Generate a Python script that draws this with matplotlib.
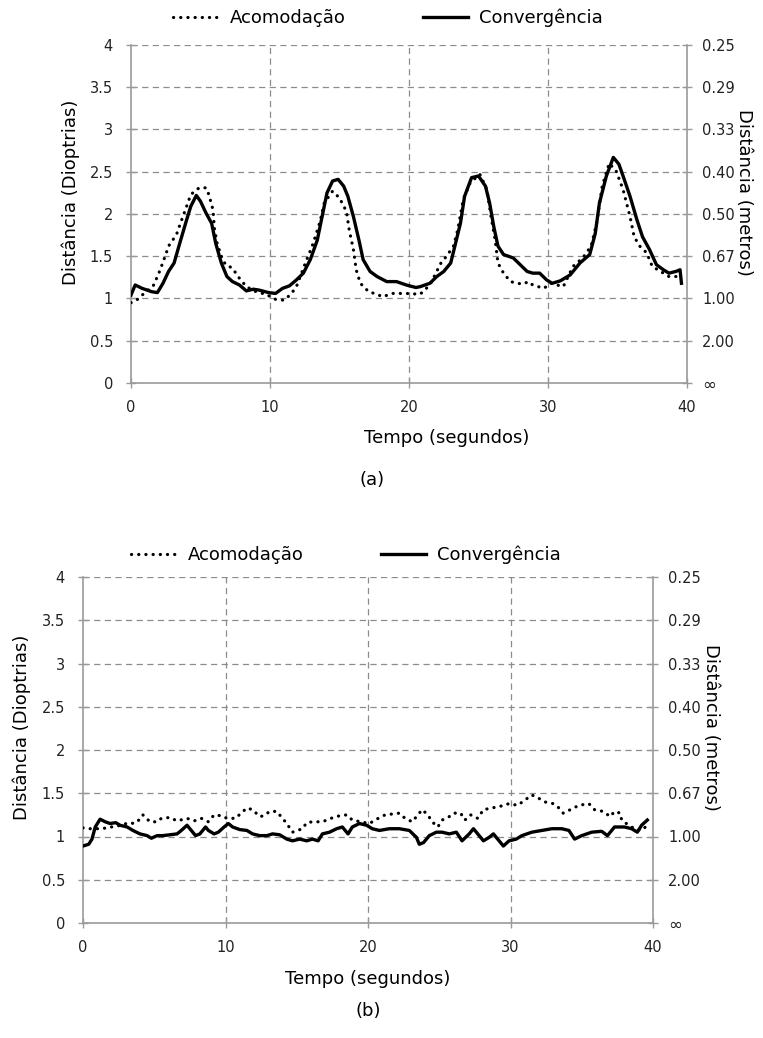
import matplotlib
matplotlib.use("Agg")
import matplotlib.pyplot as plt

# panel (a) - accommodation (dotted) and convergence (solid), dioptres vs seconds
t_acc_a = [0, 0.4, 0.8, 1.6, 1.9, 2.1, 2.5, 2.7, 3.0, 3.3, 3.6, 4.0, 4.3, 4.9, 5.4, 5.6, 5.9, 6.0, 6.2, 6.5,
           6.8, 7.3, 7.7, 8.3, 9.0, 9.7, 10.4, 11.0, 11.5, 11.9, 12.5, 13.1, 13.6, 13.9, 14.5, 15.0, 15.5, 15.7,
           16.0, 16.2, 16.5, 17.1, 17.7, 18.1, 18.8, 19.8, 20.8, 21.5, 22.3, 22.7, 23.2, 23.5, 23.9, 24.4, 25.1,
           25.6, 25.9, 26.2, 26.4, 26.8, 27.3, 27.8, 28.2, 28.6, 28.9, 29.7, 30.2, 31.1, 31.8, 32.5, 33.1, 33.5,
           33.9, 34.4, 34.9, 35.4, 35.9, 36.2, 36.6, 37.1, 37.5, 38.3, 38.7, 39.2]
acc_a = [0.95, 0.98, 1.04, 1.15, 1.26, 1.34, 1.52, 1.62, 1.69, 1.77, 1.91, 2.09, 2.23, 2.31, 2.31, 2.23, 2.05, 1.83,
         1.65, 1.50, 1.40, 1.36, 1.26, 1.14, 1.08, 1.05, 0.99, 0.98, 1.05, 1.14, 1.40, 1.65, 1.91, 2.13, 2.27, 2.19,
         2.03, 1.81, 1.58, 1.34, 1.18, 1.08, 1.05, 1.02, 1.06, 1.06, 1.05, 1.16, 1.42, 1.50, 1.62, 1.81, 2.17, 2.37,
         2.47, 2.29, 1.97, 1.69, 1.42, 1.30, 1.20, 1.18, 1.17, 1.20, 1.16, 1.12, 1.18, 1.14, 1.38, 1.48, 1.62, 1.89,
         2.33, 2.60, 2.51, 2.29, 1.97, 1.73, 1.62, 1.54, 1.38, 1.30, 1.26, 1.26]

t_conv_a = [0, 0.3, 0.8, 1.5, 1.9, 2.3, 2.7, 3.1, 3.5, 4.0, 4.3, 4.7, 5.0, 5.4, 5.8, 6.1, 6.5, 6.9, 7.3, 7.8,
            8.3, 8.8, 9.2, 9.9, 10.4, 10.9, 11.4, 11.9, 12.4, 12.9, 13.4, 13.7, 14.1, 14.5, 14.9, 15.3, 15.6, 16.0,
            16.4, 16.7, 17.2, 17.7, 18.4, 19.1, 19.8, 20.5, 20.8, 21.5, 22.0, 22.5, 23.0, 23.3, 23.7, 24.0, 24.5,
            25.0, 25.5, 25.8, 26.1, 26.4, 26.8, 27.5, 28.0, 28.5, 28.9, 29.4, 29.9, 30.3, 30.9, 31.6, 32.3, 33.0,
            33.4, 33.7, 34.2, 34.7, 35.1, 35.4, 35.9, 36.4, 36.8, 37.3, 37.8, 38.3, 38.7, 39.2, 39.5, 39.6]
conv_a = [1.04, 1.16, 1.12, 1.08, 1.07, 1.18, 1.32, 1.42, 1.65, 1.93, 2.09, 2.22, 2.15, 2.01, 1.89, 1.65, 1.42, 1.26,
          1.20, 1.16, 1.09, 1.11, 1.10, 1.07, 1.06, 1.12, 1.15, 1.22, 1.30, 1.46, 1.69, 1.93, 2.25, 2.39, 2.41, 2.33,
          2.21, 1.97, 1.69, 1.46, 1.32, 1.26, 1.20, 1.20, 1.16, 1.13, 1.14, 1.18, 1.26, 1.32, 1.42, 1.62, 1.89, 2.21,
          2.43, 2.45, 2.33, 2.13, 1.85, 1.62, 1.52, 1.48, 1.40, 1.32, 1.30, 1.30, 1.22, 1.18, 1.21, 1.28, 1.42, 1.52,
          1.77, 2.13, 2.45, 2.67, 2.59, 2.45, 2.21, 1.93, 1.73, 1.58, 1.40, 1.34, 1.30, 1.32, 1.34, 1.18]

# panel (b)
t_acc_b = [0, 0.5, 1.3, 2.0, 2.7, 3.2, 3.6, 4.0, 4.2, 4.7, 5.2, 5.5, 6.1, 6.6, 7.3, 7.8, 8.3, 8.8, 9.2, 9.7,
           10.1, 10.7, 11.1, 11.5, 11.9, 12.4, 12.7, 13.1, 13.6, 13.9, 14.3, 14.7, 15.4, 15.7, 16.1, 16.8, 17.4,
           18.0, 18.5, 18.9, 19.5, 20.1, 20.6, 21.2, 22.2, 22.6, 23.1, 23.5, 23.8, 24.2, 24.5, 24.9, 25.2, 25.7,
           26.0, 26.5, 26.8, 27.2, 27.7, 28.1, 28.7, 29.3, 29.9, 30.5, 31.0, 31.5, 32.0, 32.4, 33.0, 33.4, 33.7,
           34.2, 34.8, 35.5, 35.9, 36.5, 37.0, 37.3, 37.7, 37.8, 38.3, 38.7, 39.2, 39.6]
acc_b = [1.10, 1.09, 1.09, 1.11, 1.13, 1.16, 1.15, 1.20, 1.25, 1.17, 1.17, 1.21, 1.22, 1.18, 1.21, 1.18, 1.21, 1.17,
         1.25, 1.24, 1.21, 1.21, 1.27, 1.33, 1.31, 1.23, 1.24, 1.29, 1.29, 1.23, 1.15, 1.05, 1.09, 1.16, 1.17, 1.17,
         1.21, 1.24, 1.25, 1.19, 1.17, 1.15, 1.20, 1.25, 1.27, 1.21, 1.17, 1.25, 1.31, 1.25, 1.17, 1.11, 1.19, 1.23,
         1.27, 1.27, 1.19, 1.25, 1.21, 1.31, 1.33, 1.35, 1.38, 1.36, 1.42, 1.48, 1.44, 1.40, 1.38, 1.33, 1.27, 1.31,
         1.36, 1.38, 1.31, 1.29, 1.23, 1.29, 1.27, 1.19, 1.13, 1.09, 1.07, 1.13]

t_conv_b = [0, 0.4, 0.63, 0.86, 1.2, 1.56, 1.9, 2.3, 2.6, 3.1, 3.5, 4.0, 4.5, 4.8, 5.2, 5.6, 6.1, 6.6, 6.9, 7.3,
            7.6, 7.9, 8.2, 8.6, 8.8, 9.2, 9.5, 9.9, 10.2, 10.5, 11.0, 11.5, 11.9, 12.4, 12.9, 13.3, 13.8, 14.3,
            14.7, 15.2, 15.7, 16.1, 16.5, 16.8, 17.3, 17.8, 18.2, 18.6, 18.9, 19.4, 19.9, 20.3, 20.8, 21.5, 22.2,
            22.9, 23.4, 23.6, 23.9, 24.3, 24.8, 25.2, 25.7, 26.2, 26.6, 27.1, 27.4, 27.8, 28.1, 28.5, 28.8, 29.2,
            29.5, 29.9, 30.4, 30.8, 31.5, 32.2, 32.9, 33.6, 34.1, 34.5, 35.0, 35.7, 36.4, 36.8, 37.3, 38.0, 38.5,
            38.9, 39.2, 39.6]
conv_b = [0.89, 0.91, 0.97, 1.11, 1.20, 1.17, 1.15, 1.16, 1.13, 1.11, 1.07, 1.03, 1.01, 0.98, 1.01, 1.01, 1.02, 1.03,
          1.07, 1.13, 1.07, 1.01, 1.03, 1.11, 1.07, 1.03, 1.05, 1.11, 1.15, 1.11, 1.08, 1.07, 1.03, 1.01, 1.01, 1.03,
          1.02, 0.97, 0.95, 0.97, 0.95, 0.97, 0.95, 1.03, 1.05, 1.09, 1.11, 1.03, 1.11, 1.15, 1.13, 1.09, 1.07, 1.09,
          1.09, 1.07, 0.99, 0.91, 0.93, 1.01, 1.05, 1.05, 1.03, 1.05, 0.95, 1.03, 1.09, 1.01, 0.95, 0.99, 1.03, 0.95,
          0.89, 0.95, 0.97, 1.01, 1.05, 1.07, 1.09, 1.09, 1.07, 0.97, 1.01, 1.05, 1.06, 1.01, 1.11, 1.11, 1.09, 1.05,
          1.13, 1.19]

x_ticks = [0, 10, 20, 30, 40]
y_ticks = [0, 0.5, 1, 1.5, 2, 2.5, 3, 3.5, 4]
y_tick_labels = ["0", "0.5", "1", "1.5", "2", "2.5", "3", "3.5", "4"]
# right axis: distance in metres = 1 / dioptres
m_tick_labels = ["\u221e"] + ["%.2f" % (1.0 / v) for v in y_ticks[1:]]

W, H = 763, 1038
GRAY = "#9a9a9a"
GRID = "#8c8c8c"
TXT = "#222222"
plt.rcParams["font.family"] = "DejaVu Sans"

fig = plt.figure(figsize=(W / 100, H / 100), dpi=100)


def panel(ax, t_acc, acc, t_conv, conv, xlab_x, leg_xy, tag_xy, tag):
    ax.plot(t_acc, acc, color="black", lw=2.3, linestyle=(0, (0.05, 2.2)),
            dash_capstyle="round", label="Acomodação", zorder=3)
    ax.plot(t_conv, conv, color="black", lw=2.4, label="Convergência", zorder=4)

    ax.set_xlim(0, 40)
    ax.set_ylim(0, 4)
    ax.set_xticks(x_ticks)
    ax.set_yticks(y_ticks)
    ax.set_yticklabels(y_tick_labels)
    ax.grid(True, color=GRID, linestyle=(0, (5, 3.5)), lw=0.9, zorder=0)
    # no dashed grid on top of the axis lines
    xg = ax.get_xgridlines()
    xg[0].set_visible(False)
    xg[-1].set_visible(False)
    ax.get_ygridlines()[0].set_visible(False)

    for s in ["top", "right"]:
        ax.spines[s].set_visible(False)
    for s in ["left", "bottom"]:
        ax.spines[s].set_color(GRAY)
        ax.spines[s].set_linewidth(1.2)
    ax.tick_params(axis="y", direction="inout", length=7, width=1, color=GRAY,
                   labelsize=10.5, labelcolor=TXT, pad=9.5)
    ax.tick_params(axis="x", direction="inout", length=7, width=1, color=GRAY,
                   labelsize=10.5, labelcolor=TXT, pad=8.5)

    ax.set_xlabel("Tempo (segundos)", fontsize=13)
    ax.xaxis.set_label_coords(xlab_x, -0.135)
    ax.set_ylabel("Distância (Dioptrias)", fontsize=13)
    ax.yaxis.set_label_coords(-0.092, 0.565)

    rx = ax.twinx()
    rx.set_ylim(0, 4)
    rx.set_yticks(y_ticks)
    rx.set_yticklabels(m_tick_labels)
    for s in ["top", "left", "bottom"]:
        rx.spines[s].set_visible(False)
    rx.spines["right"].set_color(GRAY)
    rx.spines["right"].set_linewidth(1.2)
    rx.tick_params(axis="y", direction="inout", length=7, width=1, color=GRAY,
                   labelsize=10.5, labelcolor=TXT, pad=7.5)
    rx.get_yticklabels()[0].set_fontsize(12)
    rx.set_ylabel("Distância (metros)", fontsize=13, rotation=270)
    rx.yaxis.set_label_coords(1.118, 0.565)

    ax.legend(loc="center", bbox_to_anchor=leg_xy, bbox_transform=fig.transFigure,
              ncol=2, frameon=False, fontsize=13, handlelength=2.5,
              handletextpad=0.6, columnspacing=4.3)
    fig.text(tag_xy[0], tag_xy[1], tag, fontsize=13, ha="center", va="center")


ax_a = fig.add_axes([131 / W, 1 - 383 / H, 556 / W, 338 / H])
panel(ax_a, t_acc_a, acc_a, t_conv_a, conv_a, 0.568,
      (388 / W, 1 - 18 / H), (372 / W, 1 - 480 / H), "(a)")

ax_b = fig.add_axes([83 / W, 1 - 923 / H, 570 / W, 346 / H])
panel(ax_b, t_acc_b, acc_b, t_conv_b, conv_b, 0.5,
      (346 / W, 1 - 555 / H), (368 / W, 1 - 1011 / H), "(b)")

fig.savefig("out.png", dpi=100)
